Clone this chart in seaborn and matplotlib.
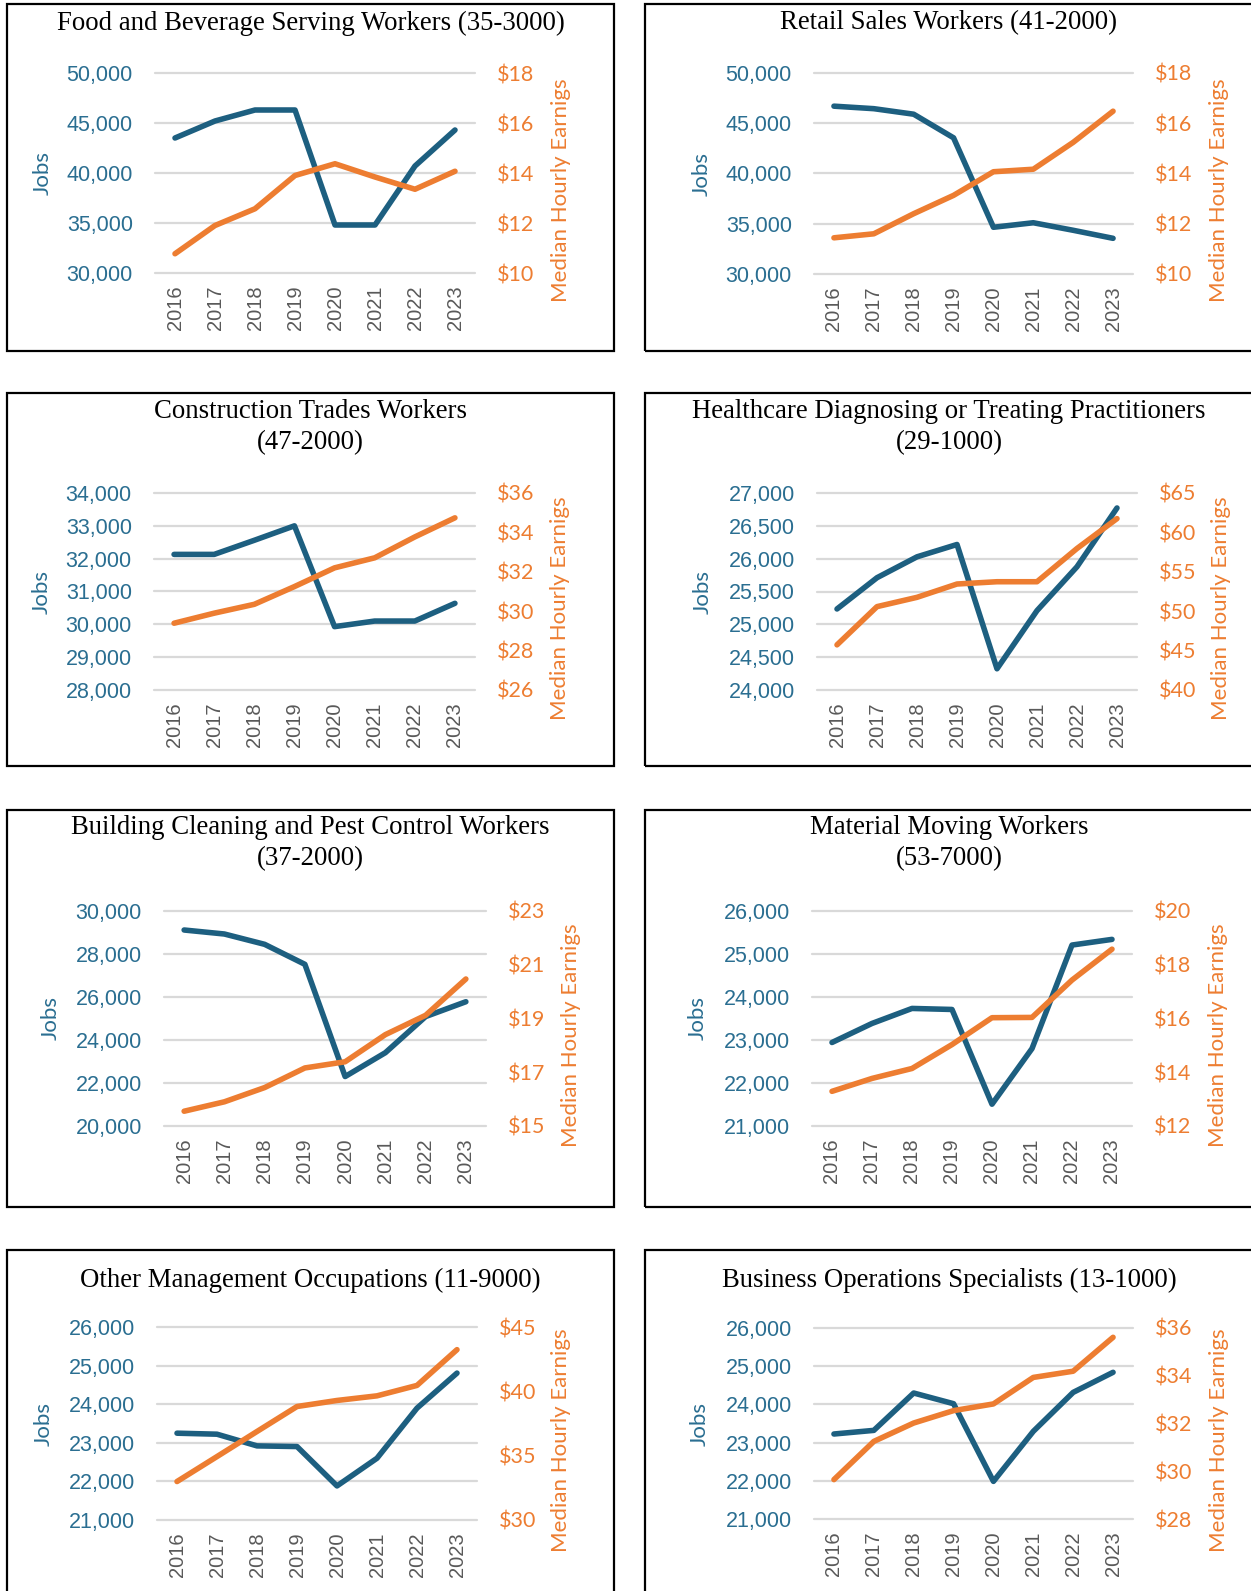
import matplotlib
matplotlib.use("Agg")
import matplotlib.pyplot as plt
import matplotlib.patches as patches
import seaborn as sns

# values
years = [2016, 2017, 2018, 2019, 2020, 2021, 2022, 2023]

food_jobs = [43500, 45200, 46300, 46300, 34800, 34800, 40700, 44300]
food_wage = [10.77, 11.90, 12.57, 13.90, 14.37, 13.84, 13.35, 14.07]

retail_jobs = [46700, 46450, 45900, 43550, 34650, 35100, 34350, 33550]
retail_wage = [11.44, 11.60, 12.40, 13.13, 14.07, 14.17, 15.24, 16.48]

constr_jobs = [32130, 32130, 32560, 33000, 29930, 30100, 30100, 30640]
constr_wage = [29.39, 29.90, 30.35, 31.25, 32.20, 32.71, 33.77, 34.74]

health_jobs = [25234, 25710, 26028, 26216, 24323, 25209, 25877, 26772]
health_wage = [45.73, 50.58, 51.76, 53.45, 53.74, 53.74, 57.96, 61.75]

clean_jobs = [29116, 28930, 28450, 27520, 22300, 23410, 25090, 25780]
clean_wage = [15.55, 15.90, 16.43, 17.16, 17.39, 18.40, 19.12, 20.47]

moving_jobs = [22942, 23385, 23734, 23710, 21507, 22800, 25208, 25340]
moving_wage = [13.29, 13.77, 14.14, 15.03, 16.03, 16.04, 17.43, 18.58]

mgmt_jobs = [23249, 23223, 22920, 22903, 21883, 22600, 23898, 24806]
mgmt_wage = [32.99, 34.93, 36.88, 38.82, 39.29, 39.65, 40.46, 43.24]

bizops_jobs = [23225, 23320, 24298, 24018, 21985, 23295, 24315, 24840]
bizops_wage = [29.65, 31.25, 32.02, 32.54, 32.82, 33.93, 34.19, 35.61]

titles = [
    "Food and Beverage Serving Workers (35-3000)",
    "Retail Sales Workers (41-2000)",
    "Construction Trades Workers\n(47-2000)",
    "Healthcare Diagnosing or Treating Practitioners\n(29-1000)",
    "Building Cleaning and Pest Control Workers\n(37-2000)",
    "Material Moving Workers\n(53-7000)",
    "Other Management Occupations (11-9000)",
    "Business Operations Specialists (13-1000)",
]
jobs_series = [food_jobs, retail_jobs, constr_jobs, health_jobs,
               clean_jobs, moving_jobs, mgmt_jobs, bizops_jobs]
wage_series = [food_wage, retail_wage, constr_wage, health_wage,
               clean_wage, moving_wage, mgmt_wage, bizops_wage]
jobs_ticks = [(30000, 50000, 5000), (30000, 50000, 5000), (28000, 34000, 1000),
              (24000, 27000, 500), (20000, 30000, 2000), (21000, 26000, 1000),
              (21000, 26000, 1000), (21000, 26000, 1000)]
wage_ticks = [(10, 18, 2), (10, 18, 2), (26, 36, 2), (40, 65, 5),
              (15, 23, 2), (12, 20, 2), (30, 45, 5), (28, 36, 2)]

# layout in pixels: box, plot area, jobs label x, wage label x, title y
layout = [
    dict(box=(7, 4, 614, 351), plot=(155, 73, 475, 273), jl=43, wl=561, ty=23),
    dict(box=(645, 4, 1253, 351), plot=(814, 73, 1133, 274), jl=702, wl=1219, ty=23),
    dict(box=(7, 393, 614, 766), plot=(154, 493, 475, 690), jl=42, wl=560, ty=427),
    dict(box=(645, 393, 1253, 766), plot=(817, 493, 1137, 690), jl=703, wl=1221, ty=427),
    dict(box=(7, 810, 614, 1207), plot=(164, 911, 486, 1126), jl=51, wl=571, ty=843),
    dict(box=(645, 810, 1253, 1207), plot=(812, 911, 1132, 1126), jl=698, wl=1218, ty=843),
    dict(box=(7, 1250, 614, 1600), plot=(157, 1327, 477, 1520), jl=44, wl=561, ty=1280),
    dict(box=(645, 1250, 1253, 1600), plot=(814, 1328, 1133, 1519), jl=700, wl=1219, ty=1280),
]

BLUE = "#1D5F80"
BLUE_TXT = "#2A6E91"
ORANGE = "#ED7D31"
GRAY = "#595959"
GRID = "#D9D9D9"

sns.set_style("white")
W, H = 1251, 1591
fig = plt.figure(figsize=(W / 100, H / 100), dpi=100)

for i in range(8):
    lay = layout[i]
    bx0, by0, bx1, by1 = lay["box"]
    fig.add_artist(patches.Rectangle((bx0 / W, 1 - by1 / H), (bx1 - bx0) / W, (by1 - by0) / H,
                                     transform=fig.transFigure, fill=False, ec="black", lw=1.6))
    px0, py0, px1, py1 = lay["plot"]
    ax = fig.add_axes([px0 / W, 1 - py1 / H, (px1 - px0) / W, (py1 - py0) / H])
    ax2 = ax.twinx()

    sns.lineplot(x=years, y=jobs_series[i], ax=ax, color=BLUE, linewidth=4.0)
    sns.lineplot(x=years, y=wage_series[i], ax=ax2, color=ORANGE, linewidth=4.0)

    lo, hi, st = jobs_ticks[i]
    jt = list(range(lo, hi + 1, st))
    ax.set_ylim(lo, hi)
    ax.set_yticks(jt)
    ax.set_yticklabels([f"{v:,}" for v in jt], color=BLUE_TXT,
                       fontfamily="Liberation Sans", fontsize=15.5)
    wlo, whi, wst = wage_ticks[i]
    wt = list(range(wlo, whi + 1, wst))
    ax2.set_ylim(wlo, whi)
    ax2.set_yticks(wt)
    ax2.set_yticklabels([f"${v}" for v in wt], color=ORANGE,
                        fontfamily="Lato", fontsize=15.5)

    ax.set_xlim(2015.5, 2023.5)
    ax.set_xticks(years)
    ax.set_xticklabels([str(y) for y in years], rotation=90, color=GRAY,
                       fontfamily="Liberation Sans", fontsize=14.5)
    ax.grid(axis="y", color=GRID, lw=1.6)
    ax.grid(axis="x", visible=False)
    ax2.grid(False)
    for gl in ax.get_ygridlines():
        gl.set_clip_on(False)
    ax.tick_params(axis="y", length=0, pad=16)
    ax.tick_params(axis="x", length=0, pad=9)
    ax2.tick_params(axis="y", length=0, pad=16)
    ax.set_xlabel("")
    ax.set_ylabel("")
    ax2.set_ylabel("")
    for a in (ax, ax2):
        for s in a.spines.values():
            s.set_visible(False)
        a.patch.set_alpha(0)

    cy = (py0 + py1) / 2
    fig.text(lay["jl"] / W, 1 - cy / H, "Jobs", rotation=90, ha="center", va="center",
             color=BLUE_TXT, fontfamily="Lato", fontsize=16)
    fig.text(lay["wl"] / W, 1 - (cy + 17) / H, "Median Hourly Earnigs", rotation=90,
             ha="center", va="center", color=ORANGE, fontfamily="Lato", fontsize=16)
    fig.text((bx0 + bx1) / 2 / W, 1 - lay["ty"] / H, titles[i], ha="center", va="center",
             fontfamily="Liberation Serif", fontsize=19.3, linespacing=1.35, color="black")

fig.savefig("out.png", dpi=100, facecolor="white")
